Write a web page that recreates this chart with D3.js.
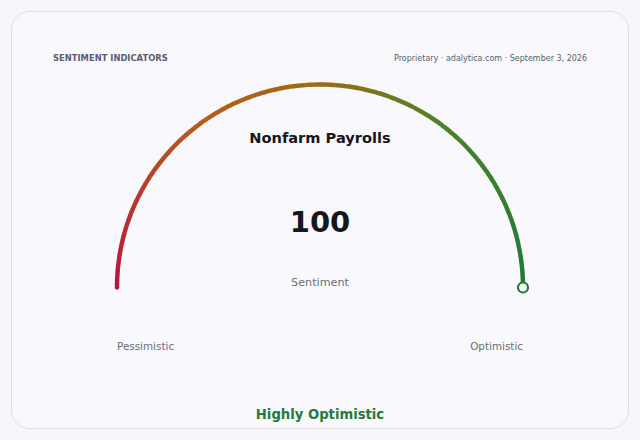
<!DOCTYPE html>
<html>
<head>
<meta charset="utf-8">
<title>Sentiment gauge</title>
<script src="https://cdn.jsdelivr.net/npm/d3@7"></script>
<style>
body { margin: 0; background: #f7f7fb; font-family: 'DejaVu Sans', sans-serif; }
svg { display: block; }
</style>
</head>
<body>
<svg width="640" height="440"></svg>
<script>
// values
var indicator = "Nonfarm Payrolls";
var value = 100;
var valueRange = [0, 100];
var stopValues = [0, 30, 50, 70, 100];
var stopColors = ["#b8163e", "#b85c1c", "#9c6c12", "#4d8128", "#1f7a3b"];
var endLabels = ["Pessimistic", "Optimistic"];
var verdict = "Highly Optimistic";

var svg = d3.select("svg");

// card
svg.append("rect")
  .attr("x", 11.5).attr("y", 11.5)
  .attr("width", 617).attr("height", 417)
  .attr("rx", 18)
  .attr("fill", "#f9f9fd")
  .attr("stroke", "#dedee8");

svg.append("text")
  .attr("x", 53).attr("y", 61)
  .attr("font-size", 8.4).attr("font-weight", "bold")
  .attr("fill", "#5c5c72")
  .text("SENTIMENT INDICATORS");

svg.append("text")
  .attr("x", 587).attr("y", 61)
  .attr("text-anchor", "end")
  .attr("font-size", 8)
  .attr("fill", "#5c5c72")
  .text("Proprietary · adalytica.com · September 3, 2026");

var cx = 320, cy = 287.5, r = 203;

var angle = d3.scaleLinear().domain(valueRange).range([-Math.PI / 2, Math.PI / 2]);
var color = d3.scaleLinear().domain(stopValues).range(stopColors).interpolate(d3.interpolateRgb);

var g = svg.append("g").attr("transform", "translate(" + cx + "," + cy + ")");

// the arc, drawn as many thin pieces so the colour follows the curve
var steps = d3.range(valueRange[0], valueRange[1], 0.5);
var arc = d3.arc().innerRadius(r - 2.2).outerRadius(r + 2.2);
g.selectAll("path.seg").data(steps).enter().append("path")
  .attr("class", "seg")
  .attr("d", function(d) {
    return arc({ startAngle: angle(d), endAngle: angle(Math.min(d + 0.6, valueRange[1])) });
  })
  .attr("fill", function(d) { return color(d + 0.25); });

// round cap at the start
g.append("circle")
  .attr("cx", r * Math.sin(angle(valueRange[0])))
  .attr("cy", -r * Math.cos(angle(valueRange[0])))
  .attr("r", 2.2).attr("fill", color(valueRange[0]));

// value marker
g.append("circle")
  .attr("cx", r * Math.sin(angle(value)))
  .attr("cy", -r * Math.cos(angle(value)))
  .attr("r", 5)
  .attr("fill", "#f9f9fd")
  .attr("stroke", color(value))
  .attr("stroke-width", 2.2);

svg.append("text")
  .attr("x", cx).attr("y", 143)
  .attr("text-anchor", "middle")
  .attr("font-size", 14.6).attr("font-weight", "bold")
  .attr("fill", "#16161c")
  .text(indicator);

svg.append("text")
  .attr("x", cx).attr("y", 232)
  .attr("text-anchor", "middle")
  .attr("font-size", 29).attr("font-weight", "bold")
  .attr("fill", "#16161c")
  .text(value);

svg.append("text")
  .attr("x", cx).attr("y", 286)
  .attr("text-anchor", "middle")
  .attr("font-size", 11.2)
  .attr("fill", "#6c6c7c")
  .text("Sentiment");

svg.append("text")
  .attr("x", cx - r).attr("y", 350)
  .attr("font-size", 10.4)
  .attr("fill", "#6c6c7c")
  .text(endLabels[0]);

svg.append("text")
  .attr("x", cx + r).attr("y", 350)
  .attr("text-anchor", "end")
  .attr("font-size", 10.4)
  .attr("fill", "#6c6c7c")
  .text(endLabels[1]);

svg.append("text")
  .attr("x", cx).attr("y", 419)
  .attr("text-anchor", "middle")
  .attr("font-size", 13.2).attr("font-weight", "bold")
  .attr("fill", "#237a41")
  .text(verdict);
</script>
</body>
</html>
